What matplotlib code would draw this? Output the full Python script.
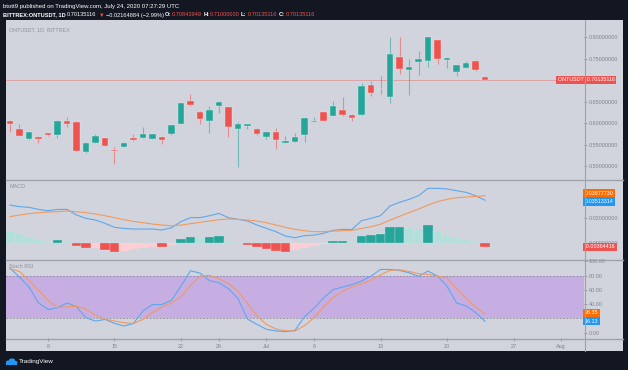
import matplotlib
matplotlib.use("Agg")
import matplotlib.pyplot as plt
import matplotlib.dates as mdates
import matplotlib.transforms as mtransforms
from matplotlib.patches import Rectangle, Circle
from matplotlib.lines import Line2D
import pandas as pd
import numpy as np

# ---------------- data ----------------
dates = pd.date_range("2020-06-04", "2020-07-24", freq="D")

opens = [0.6060, 0.5868, 0.5627, 0.5690, 0.5767, 0.5720, 0.6046, 0.6038, 0.5325, 0.5550,
         0.5651, 0.5380, 0.5457, 0.5651, 0.5666, 0.5635, 0.5682, 0.5744, 0.5992, 0.6511,
         0.6270, 0.6046, 0.6410, 0.6372, 0.5875, 0.5945, 0.5875, 0.5690, 0.5806, 0.5542,
         0.5565, 0.5720, 0.6030, 0.6255, 0.6170, 0.6309, 0.6193, 0.6201, 0.6890, 0.6806,
         0.6604, 0.7542, 0.7240, 0.7418, 0.7457, 0.7930, 0.7473, 0.7200, 0.7294, 0.7457,
         0.70843949]
highs = [0.6080, 0.5976, 0.5790, 0.5705, 0.5780, 0.6075, 0.6140, 0.6046, 0.5573, 0.5752,
         0.5666, 0.5457, 0.5558, 0.5752, 0.5922, 0.5760, 0.5697, 0.5961, 0.6480, 0.6682,
         0.6286, 0.6403, 0.6519, 0.6387, 0.6023, 0.5984, 0.5883, 0.5830, 0.5883, 0.5705,
         0.5767, 0.6139, 0.6139, 0.6263, 0.6527, 0.6620, 0.6217, 0.6945, 0.6992, 0.7100,
         0.8000, 0.8000, 0.7488, 0.7689, 0.8015, 0.7938, 0.7550, 0.7364, 0.7450, 0.7465,
         0.7100]
lows = [0.5806, 0.5700, 0.5620, 0.5534, 0.5705, 0.5650, 0.5907, 0.5355, 0.5320, 0.5535,
        0.5470, 0.5054, 0.5450, 0.5596, 0.5660, 0.5628, 0.5527, 0.5736, 0.5984, 0.6403,
        0.5984, 0.5767, 0.6232, 0.5690, 0.4992, 0.5860, 0.5736, 0.5627, 0.5395, 0.5542,
        0.5558, 0.5558, 0.6023, 0.6046, 0.6162, 0.6170, 0.6054, 0.6193, 0.6635, 0.6674,
        0.6480, 0.7147, 0.6658, 0.7123, 0.7317, 0.7372, 0.7279, 0.7100, 0.7286, 0.7217,
        0.70135116]
closes = [0.5984, 0.5705, 0.5790, 0.5627, 0.5728, 0.6060, 0.5984, 0.5364, 0.5550, 0.5705,
          0.5480, 0.5348, 0.5542, 0.5604, 0.5752, 0.5744, 0.5604, 0.5953, 0.6465, 0.6418,
          0.6092, 0.6309, 0.6503, 0.5914, 0.5976, 0.5976, 0.5744, 0.5806, 0.5604, 0.5589,
          0.5690, 0.6131, 0.6054, 0.6054, 0.6395, 0.6186, 0.6131, 0.6875, 0.6697, 0.6790,
          0.7604, 0.7255, 0.7317, 0.7488, 0.8000, 0.7503, 0.7511, 0.7348, 0.7403, 0.7230,
          0.70135116]

macd_line = [0.0311, 0.0298, 0.0292, 0.0275, 0.0264, 0.0275, 0.0275, 0.0229, 0.0201, 0.0187,
             0.0160, 0.0127, 0.0118, 0.0113, 0.0113, 0.0113, 0.0105, 0.0124, 0.0174, 0.0207,
             0.0207, 0.0223, 0.0242, 0.0207, 0.0193, 0.0179, 0.0146, 0.0118, 0.0091, 0.0055,
             0.0041, 0.0058, 0.0063, 0.0077, 0.0102, 0.0110, 0.0110, 0.0182, 0.0201, 0.0223,
             0.0303, 0.0333, 0.0358, 0.0388, 0.0449, 0.0449, 0.0444, 0.0430, 0.0416, 0.0388,
             0.03513314]
signal_line = [0.0215, 0.0229, 0.0240, 0.0248, 0.0253, 0.0256, 0.0262, 0.0256, 0.0248, 0.0237,
               0.0223, 0.0207, 0.0190, 0.0176, 0.0165, 0.0154, 0.0146, 0.0140, 0.0146, 0.0157,
               0.0168, 0.0179, 0.0190, 0.0196, 0.0193, 0.0187, 0.0179, 0.0165, 0.0146, 0.0127,
               0.0110, 0.0099, 0.0091, 0.0091, 0.0096, 0.0099, 0.0102, 0.0118, 0.0132, 0.0152,
               0.0187, 0.0218, 0.0248, 0.0278, 0.0311, 0.0339, 0.0358, 0.0372, 0.0377, 0.0383,
               0.03877730]
histogram = [0.0096, 0.0069, 0.0050, 0.0025, 0.0008, 0.0019, 0.0008, -0.0028, -0.0041, -0.0041,
             -0.0061, -0.0074, -0.0069, -0.0052, -0.0041, -0.0033, -0.0036, -0.0019, 0.0028, 0.0050,
             0.0041, 0.0044, 0.0055, 0.0017, -0.0006, -0.0017, -0.0039, -0.0052, -0.0069, -0.0080,
             -0.0061, -0.0041, -0.0028, -0.0010, 0.0014, 0.0017, 0.0008, 0.0055, 0.0066, 0.0074,
             0.0126, 0.0127, 0.0118, 0.0117, 0.0146, 0.0096, 0.0058, 0.0036, 0.0025, 0.0008,
             -0.00364416]

stoch_k = [90.3, 77.8, 63.9, 41.7, 32.5, 34.8, 41.7, 36.2, 20.9, 16.3,
           18.6, 13.0, 9.3, 13.0, 30.6, 39.4, 39.4, 45.4, 65.3, 86.6,
           83.4, 72.7, 69.9, 61.6, 47.7, 19.0, 11.6, 4.7, 2.4, 1.4,
           3.3, 22.3, 34.3, 48.6, 60.2, 63.9, 67.2, 72.3, 79.2, 88.5,
           88.5, 87.1, 83.8, 78.8, 86.2, 79.2, 64.9, 41.7, 37.5, 28.3,
           16.13]
stoch_d = [89.4, 85.7, 73.2, 59.3, 45.4, 35.2, 36.2, 37.0, 32.9, 24.6,
           19.0, 16.3, 13.9, 13.0, 18.6, 28.3, 36.2, 41.7, 50.0, 66.2,
           79.2, 80.1, 75.5, 68.6, 57.9, 40.8, 23.7, 11.6, 5.1, 2.8,
           2.4, 9.8, 20.9, 36.1, 49.1, 57.9, 63.9, 68.6, 73.2, 81.0,
           87.1, 88.0, 85.7, 82.5, 81.5, 79.2, 76.4, 61.6, 47.7, 36.1,
           26.35]

price_ticks = [0.50, 0.55, 0.60, 0.65, 0.75, 0.80]
macd_ticks = [0.00, 0.02]
stoch_ticks = [0, 40, 60, 80, 100]
xtick_dates = ["2020-06-08", "2020-06-15", "2020-06-22", "2020-06-26", "2020-07-01",
               "2020-07-06", "2020-07-13", "2020-07-20", "2020-07-27", "2020-08-01"]
xtick_labels = ["8", "15", "22", "26", "Jul", "6", "13", "20", "27", "Aug"]

# ---------------- style ----------------
plt.rcParams["font.family"] = ["Liberation Sans", "DejaVu Sans"]
W, H = 628, 370
DARK = "#131722"
BG = "#d1d4dc"
SEP = "#9ea1a9"
TXT = "#80838d"
GREEN = "#26a69a"
RED = "#ef5350"
BLUE = "#5ea7ee"
ORANGE = "#f2995f"
FS = 3.9

fig = plt.figure(figsize=(W / 100, H / 100), dpi=100, facecolor=DARK)


def frac_rect(x0, y0, x1, y1):
    return [x0 / W, 1 - y1 / H, (x1 - x0) / W, (y1 - y0) / H]


fig.patches.append(Rectangle((6 / W, 1 - 351 / H), (623 - 6) / W, (351 - 20) / H,
                             transform=fig.transFigure, facecolor=BG, edgecolor="none", zorder=-5))

ax_p = fig.add_axes(frac_rect(6, 20, 584, 179))
ax_m = fig.add_axes(frac_rect(6, 180, 584, 259), sharex=ax_p)
ax_s = fig.add_axes(frac_rect(6, 260, 584, 338), sharex=ax_p)

xnum = mdates.date2num(dates.to_pydatetime())
x0 = xnum[0]
for ax in (ax_p, ax_m, ax_s):
    ax.set_facecolor(BG)
    for sp in ax.spines.values():
        sp.set_visible(False)
    ax.yaxis.tick_right()
    ax.tick_params(axis="y", length=2, width=0.5, color=TXT, labelsize=FS, labelcolor=TXT, pad=1.5)
    ax.tick_params(axis="x", length=0, labelbottom=False)
ax_p.set_xlim(x0 - 0.42, x0 + 60.42)

# ---- candles ----
o = np.array(opens); c = np.array(closes); hi = np.array(highs); lo = np.array(lows)
up = c >= o
cols = np.where(up, GREEN, RED)
ax_p.vlines(xnum, lo, hi, colors=cols, linewidth=0.8, alpha=0.55, zorder=2)
body_h = np.maximum(np.abs(c - o), 0.0012)
body_b = np.minimum(o, c)
ax_p.bar(xnum, body_h, bottom=body_b, width=0.66, color=cols, edgecolor="#eef0f4",
         linewidth=0.25, zorder=3)
ax_p.axhline(closes[-1], color=RED, linewidth=0.6, alpha=0.45, zorder=1)
ax_p.set_ylim(0.4705, 0.8402)
ax_p.set_yticks(price_ticks)
ax_p.set_yticklabels([f"{v:.8f}" for v in price_ticks])

# ---- MACD ----
hist = np.array(histogram)
hcols = []
for i, v in enumerate(hist):
    prev = hist[i - 1] if i > 0 else v
    if v >= 0:
        hcols.append("#26a69a" if v > prev else "#b2dfdb")
    else:
        hcols.append("#ef5350" if v < prev else "#ffcdd2")
ax_m.bar(xnum, hist, width=0.97, color=hcols, edgecolor="#dfe2e8", linewidth=0.2, zorder=2)
ax_m.plot(xnum, macd_line, color=BLUE, linewidth=0.8, zorder=3)
ax_m.plot(xnum, signal_line, color=ORANGE, linewidth=0.8, zorder=3)
ax_m.set_ylim(-0.01347, 0.0518)
ax_m.set_yticks(macd_ticks)
ax_m.set_yticklabels([f"{v:.8f}" for v in macd_ticks])

# ---- Stoch RSI ----
ax_s.axhspan(20, 80, color="#c6aee3", zorder=1, linewidth=0)
ax_s.axhline(80, color="#8a8a96", linewidth=0.6, linestyle=(0, (2, 2)), zorder=2)
ax_s.axhline(20, color="#8a8a96", linewidth=0.6, linestyle=(0, (2, 2)), zorder=2)
ax_s.plot(xnum, stoch_k, color=BLUE, linewidth=0.8, zorder=3)
ax_s.plot(xnum, stoch_d, color=ORANGE, linewidth=0.8, zorder=3)
ax_s.set_ylim(-7.4, 101.7)
ax_s.set_yticks(stoch_ticks)
ax_s.set_yticklabels([f"{v:.2f}" for v in stoch_ticks])

ax_s.set_xticks(mdates.date2num(pd.to_datetime(xtick_dates).to_pydatetime()))
ax_s.set_xticklabels(xtick_labels)
ax_s.tick_params(axis="x", length=2, width=0.5, color=TXT, labelsize=FS, labelcolor=TXT,
                 labelbottom=True, pad=2.5)

# ---- value labels on right scale ----
def scale_label(ax, yval, text, color, x_px=584.5):
    tr = mtransforms.blended_transform_factory(fig.transFigure, ax.transData)
    ax.text(x_px / W, yval, text, transform=tr, fontsize=FS, color="white", va="center",
            ha="left", zorder=10, clip_on=False,
            bbox=dict(boxstyle="square,pad=0.3", facecolor=color, edgecolor="none"))

scale_label(ax_p, closes[-1], "ONTUSDT  0.70135116", RED, x_px=557.5)
scale_label(ax_m, 0.0407, f"{signal_line[-1]:.8f}", "#ff6d00")
scale_label(ax_m, 0.0340, f"{macd_line[-1]:.8f}", "#2196f3")
scale_label(ax_m, -0.00355, f"{histogram[-1]:.8f}", RED)
scale_label(ax_s, 28.0, f"{stoch_d[-1]:.2f}", "#ff6d00")
scale_label(ax_s, 16.3, f"{stoch_k[-1]:.2f}", "#2196f3")

# ---- panel titles ----
def ptext(x, y, s, **kw):
    return fig.text(x / W, 1 - y / H, s, va="center", ha="left", **kw)

ptext(9, 30, "ONTUSDT, 1D, BITTREX", fontsize=FS, color="#8f929a")
ptext(9, 187, "MACD", fontsize=FS, color="#8f929a")
ptext(9, 267, "Stoch RSI", fontsize=FS, color="#8f929a")

# ---- separators ----
for yy in (179.5, 259.5, 338.5):
    fig.lines.append(Line2D([6 / W, 623 / W], [1 - yy / H] * 2, transform=fig.transFigure,
                            color=SEP, linewidth=1.0))
fig.lines.append(Line2D([584.5 / W] * 2, [1 - 20 / H, 1 - 351 / H], transform=fig.transFigure,
                        color=SEP, linewidth=0.8))

# ---- header ----
ptext(3, 6.5, "btott9 published on TradingView.com, July 24, 2020 07:27:29 UTC",
      fontsize=4.3, color="white")
hdr = [(3, "BITTREX:ONTUSDT, 1D", "white", "bold"),
       (59, "0.70135116", "white", "normal"),
       (99, "▼", RED, "normal"),
       (104, "\u22120.02164884 (\u22122.99%)", "white", "normal"),
       (165, "O:", "white", "bold"),
       (171, "0.70843949", RED, "normal"),
       (203, "H:", "white", "bold"),
       (209, "0.71000000", RED, "normal"),
       (241, "L:", "white", "bold"),
       (247, "0.70135116", RED, "normal"),
       (279, "C:", "white", "bold"),
       (285, "0.70135116", RED, "normal")]
renderer = fig.canvas.get_renderer()
cursor = 0.0
for xx, s, col, wt in hdr:
    xpos = max(xx, cursor + 1.0)
    t = ptext(xpos, 15, s, fontsize=4.1, color=col, fontweight=wt)
    bb = t.get_window_extent(renderer)
    cursor = bb.x1

# ---- footer logo ----
logo_c = "#2196f3"
for cx, cy, r in [(8.5, 362, 2.6), (12, 360.3, 3.2), (15.2, 362.3, 2.3)]:
    fig.patches.append(Circle((cx / W, 1 - cy / H), r / W, transform=fig.transFigure,
                              facecolor=logo_c, edgecolor="none"))
fig.patches.append(Rectangle((6 / W, 1 - 364.5 / H), 11 / W, 2.5 / H, transform=fig.transFigure,
                             facecolor=logo_c, edgecolor="none"))
ptext(19, 362, "TradingView", fontsize=4.6, color="white")

fig.savefig("out.png", dpi=100, facecolor=DARK)
